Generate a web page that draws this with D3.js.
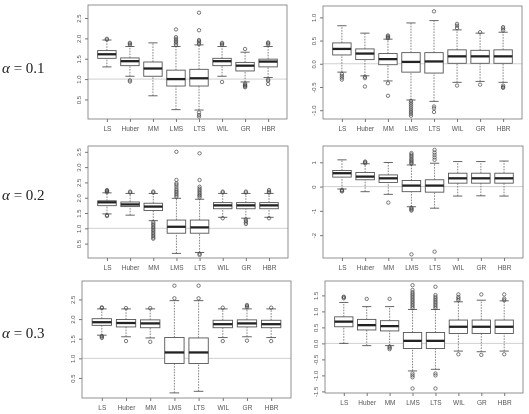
<!DOCTYPE html>
<html>
<head>
<meta charset="utf-8">
<script src="https://cdn.jsdelivr.net/npm/d3@7"></script>
<style>
  body { margin: 0; background: #fff; }
  svg { display: block; }
</style>
</head>
<body>
<div id="chart"></div>
<script>
const width = 529;
const height = 414;

const methods = ["LS", "Huber", "MM", "LMS", "LTS", "WIL", "GR", "HBR"];
const alphaLabels = ["0.1", "0.2", "0.3"];

// [lower whisker, Q1, median, Q3, upper whisker] per method
const statsA1Left = [
  [1.30, 1.51, 1.61, 1.70, 1.96],
  [1.07, 1.33, 1.44, 1.52, 1.80],
  [0.59, 1.07, 1.26, 1.42, 1.89],
  [0.25, 0.83, 1.00, 1.22, 1.80],
  [0.24, 0.83, 1.02, 1.24, 1.84],
  [1.07, 1.33, 1.44, 1.51, 1.80],
  [0.93, 1.20, 1.33, 1.41, 1.66],
  [1.04, 1.30, 1.43, 1.49, 1.80],
];
const outA1Left = [
  [1.97, 1.99],
  [1.84, 1.87, 1.89, 0.97, 0.94],
  [],
  [1.84, 1.88, 1.92, 1.95, 1.99, 2.03, 2.22],
  [1.86, 1.90, 1.93, 1.96, 2.20, 2.63, 0.18, 0.12, 0.08],
  [1.84, 1.87, 1.89, 0.93],
  [1.74, 0.89, 0.86, 0.84, 0.82, 0.80],
  [1.85, 1.88, 1.90, 0.99, 0.96, 0.88],
];
const ticksA1Left = [0.5, 1.0, 1.5, 2.0, 2.5];

const statsA1Right = [
  [-0.18, 0.19, 0.32, 0.45, 0.82],
  [-0.26, 0.09, 0.22, 0.32, 0.66],
  [-0.37, -0.02, 0.10, 0.22, 0.53],
  [-0.78, -0.18, 0.04, 0.24, 0.88],
  [-0.81, -0.20, 0.05, 0.24, 0.93],
  [-0.40, 0.01, 0.16, 0.30, 0.73],
  [-0.38, 0.01, 0.16, 0.29, 0.66],
  [-0.40, 0.01, 0.16, 0.30, 0.68],
];
const outA1Right = [
  [-0.22, -0.26, -0.30, -0.34],
  [-0.28, -0.31, -0.49],
  [0.55, 0.57, 0.59, 0.61, -0.42, -0.69],
  [-0.80, -0.84, -0.88, -0.92, -0.96, -1.00, -1.04, -1.08, -1.12],
  [1.13, -0.92, -0.96, -1.04],
  [0.77, 0.82, 0.86, -0.47],
  [0.68, -0.45],
  [0.72, 0.76, 0.79, -0.47, -0.50, -0.52],
];
const ticksA1Right = [-1.0, -0.5, 0.0, 0.5, 1.0];

const statsA2Left = [
  [1.47, 1.74, 1.85, 1.90, 2.16],
  [1.43, 1.71, 1.78, 1.86, 2.14],
  [1.25, 1.58, 1.71, 1.82, 2.14],
  [0.18, 0.84, 1.05, 1.27, 1.98],
  [0.21, 0.84, 1.03, 1.27, 1.95],
  [1.36, 1.64, 1.75, 1.84, 2.14],
  [1.33, 1.64, 1.75, 1.84, 2.14],
  [1.36, 1.64, 1.75, 1.84, 2.14],
];
const outA2Left = [
  [2.18, 2.21, 2.23, 2.25, 1.43, 1.40],
  [2.17, 2.20],
  [2.17, 2.20, 1.20, 1.15, 1.10, 1.05, 1.00, 0.95, 0.90, 0.85, 0.80, 0.75, 0.70, 0.66],
  [2.03, 2.08, 2.13, 2.18, 2.23, 2.28, 2.35, 2.42, 2.47, 2.58, 3.50],
  [2.01, 2.06, 2.10, 2.15, 2.20, 2.25, 2.30, 2.36, 2.58, 3.45, 0.17, 0.13],
  [2.17, 2.20, 1.33],
  [2.17, 2.20, 1.29, 1.24, 1.19, 1.14],
  [2.17, 2.20, 2.25, 1.33],
];
const ticksA2Left = [0.5, 1.0, 1.5, 2.0, 2.5, 3.0, 3.5];

const statsA2Right = [
  [-0.10, 0.39, 0.55, 0.66, 1.10],
  [-0.21, 0.28, 0.41, 0.58, 0.94],
  [-0.32, 0.17, 0.34, 0.48, 0.99],
  [-0.83, -0.21, 0.04, 0.25, 0.89],
  [-0.89, -0.23, 0.04, 0.28, 0.96],
  [-0.39, 0.14, 0.34, 0.55, 1.03],
  [-0.38, 0.14, 0.34, 0.55, 1.03],
  [-0.39, 0.14, 0.34, 0.55, 1.05],
];
const outA2Right = [
  [-0.14, -0.17, -0.20],
  [0.96, 1.00, 1.03],
  [-0.66],
  [0.94, 0.98, 1.03, 1.08, 1.13, 1.20, 1.26, 1.32, 1.38, -0.87, -0.91, -0.95, -0.99, -2.79],
  [1.10, 1.20, 1.30, 1.40, 1.51, -2.68],
  [],
  [],
  [],
];
const ticksA2Right = [-2, -1, 0, 1];

const statsA3Left = [
  [1.59, 1.84, 1.92, 2.01, 2.26],
  [1.55, 1.80, 1.90, 1.99, 2.26],
  [1.52, 1.78, 1.89, 1.98, 2.26],
  [0.12, 0.87, 1.15, 1.53, 2.47],
  [0.16, 0.87, 1.15, 1.52, 2.47],
  [1.53, 1.78, 1.87, 1.97, 2.26],
  [1.55, 1.80, 1.89, 1.98, 2.26],
  [1.53, 1.78, 1.87, 1.97, 2.26],
];
const outA3Left = [
  [2.28, 2.30, 1.57, 1.55, 1.52],
  [2.28, 1.44],
  [2.28, 1.42],
  [2.53, 2.85],
  [2.53, 2.85],
  [2.29, 1.44],
  [2.30, 2.33, 2.36, 1.45],
  [2.29, 1.44],
];
const ticksA3Left = [0.5, 1.0, 1.5, 2.0, 2.5];

const statsA3Right = [
  [0.00, 0.52, 0.68, 0.83, 1.28],
  [-0.07, 0.42, 0.57, 0.75, 1.15],
  [-0.07, 0.39, 0.54, 0.71, 1.15],
  [-0.86, -0.16, 0.08, 0.34, 1.06],
  [-0.81, -0.16, 0.08, 0.34, 1.06],
  [-0.24, 0.31, 0.52, 0.73, 1.30],
  [-0.26, 0.31, 0.52, 0.73, 1.35],
  [-0.24, 0.31, 0.52, 0.73, 1.33],
];
const outA3Right = [
  [1.41, 1.44, 1.46],
  [1.39],
  [1.39, -0.10, -0.14, -0.18],
  [1.10, 1.15, 1.20, 1.25, 1.30, 1.35, 1.40, 1.45, 1.50, 1.55, 1.60, 1.67, 1.82, -0.94, -1.00, -1.06, -1.41],
  [1.10, 1.15, 1.20, 1.25, 1.30, 1.35, 1.40, 1.45, 1.51, 1.77, -0.94, -1.00, -1.41],
  [1.35, 1.40, 1.45, 1.53, -0.34],
  [1.53, -0.36],
  [1.35, 1.40, 1.53, -0.34],
];
const ticksA3Right = [-1.5, -1.0, -0.5, 0.0, 0.5, 1.0, 1.5];

// panel frames in pixels and their y domains
const panels = [
  { stats: statsA1Left, outliers: outA1Left, ticks: ticksA1Left, ref: 1,
    x0: 88, x1: 287, y0: 5, y1: 119, domain: [0.02, 2.82], fmt: ".1f" },
  { stats: statsA1Right, outliers: outA1Right, ticks: ticksA1Right, ref: 0,
    x0: 323, x1: 522, y0: 6, y1: 119, domain: [-1.19, 1.245], fmt: ".1f" },
  { stats: statsA2Left, outliers: outA2Left, ticks: ticksA2Left, ref: 1,
    x0: 88, x1: 288, y0: 146, y1: 258, domain: [0.03, 3.69], fmt: ".1f" },
  { stats: statsA2Right, outliers: outA2Right, ticks: ticksA2Right, ref: 0,
    x0: 323, x1: 523, y0: 146, y1: 258, domain: [-2.94, 1.67], fmt: "d" },
  { stats: statsA3Left, outliers: outA3Left, ticks: ticksA3Left, ref: 1,
    x0: 82, x1: 291, y0: 281, y1: 398, domain: [-0.01, 2.97], fmt: ".1f" },
  { stats: statsA3Right, outliers: outA3Right, ticks: ticksA3Right, ref: 0,
    x0: 325, x1: 523, y0: 281, y1: 393, domain: [-1.55, 1.95], fmt: ".1f" },
];
const alphaY = [68, 195, 333];

const svg = d3
  .select("#chart")
  .append("svg")
  .attr("width", width)
  .attr("height", height);

svg
  .append("defs")
  .append("filter")
  .attr("id", "soft")
  .append("feGaussianBlur")
  .attr("stdDeviation", 0.35);

const root = svg.append("g").attr("filter", "url(#soft)");

const drawPanel = (p) => {
  const g = root.append("g");
  const x = d3
    .scaleLinear()
    .domain([0.5 - 0.32, methods.length + 0.5 + 0.32])
    .range([p.x0, p.x1]);
  const y = d3.scaleLinear().domain(p.domain).range([p.y1, p.y0]);
  const half = x(1.4) - x(1);
  const staple = half / 2;

  // reference line
  g.append("line")
    .attr("x1", p.x0)
    .attr("x2", p.x1)
    .attr("y1", y(p.ref))
    .attr("y2", y(p.ref))
    .attr("stroke", "#c4c4c4")
    .attr("stroke-width", 0.8);

  // y axis (R style: ticks only, the frame gives the line)
  const yAxis = d3
    .axisLeft(y)
    .tickValues(p.ticks)
    .tickSize(3)
    .tickSizeOuter(0)
    .tickPadding(2)
    .tickFormat(d3.format(p.fmt));
  const ya = g
    .append("g")
    .attr("transform", `translate(${p.x0},0)`)
    .call(yAxis);
  ya.select(".domain").remove();
  ya.selectAll(".tick line").attr("stroke", "#777");
  ya.selectAll(".tick text")
    .attr("x", null)
    .attr("dy", null)
    .attr("transform", "translate(-7,0) rotate(-90)")
    .attr("text-anchor", "middle")
    .attr("fill", "#555")
    .style("font", "6px 'Liberation Sans', Arial, sans-serif")
    .text((d) => d3.format(p.fmt)(d).replace("−", "-"));

  // x axis
  const xAxis = d3
    .axisBottom(x)
    .tickValues(d3.range(1, methods.length + 1))
    .tickSize(3)
    .tickSizeOuter(0)
    .tickPadding(4)
    .tickFormat((d) => methods[d - 1]);
  const xa = g
    .append("g")
    .attr("transform", `translate(0,${p.y1})`)
    .call(xAxis);
  xa.select(".domain").remove();
  xa.selectAll(".tick line").attr("stroke", "#777");
  xa.selectAll(".tick text")
    .attr("fill", "#555")
    .style("font", "6.5px 'Liberation Sans', Arial, sans-serif");

  // boxes
  p.stats.forEach((s, i) => {
    const cx = x(i + 1);
    const [lo, q1, med, q3, hi] = s;
    const bg = g.append("g");
    bg.selectAll(".whisker")
      .data([[q3, hi], [lo, q1]])
      .join("line")
      .attr("class", "whisker")
      .attr("x1", cx)
      .attr("x2", cx)
      .attr("y1", (d) => y(d[0]))
      .attr("y2", (d) => y(d[1]))
      .attr("stroke", "#666")
      .attr("stroke-width", 0.8)
      .attr("stroke-dasharray", "1.6,1.2");
    bg.selectAll(".staple")
      .data([lo, hi])
      .join("line")
      .attr("class", "staple")
      .attr("x1", cx - staple)
      .attr("x2", cx + staple)
      .attr("y1", (d) => y(d))
      .attr("y2", (d) => y(d))
      .attr("stroke", "#555")
      .attr("stroke-width", 0.9);
    bg.append("rect")
      .attr("x", cx - half)
      .attr("y", y(q3))
      .attr("width", half * 2)
      .attr("height", y(q1) - y(q3))
      .attr("fill", "#fff")
      .attr("stroke", "#555")
      .attr("stroke-width", 0.9);
    bg.append("line")
      .attr("x1", cx - half)
      .attr("x2", cx + half)
      .attr("y1", y(med))
      .attr("y2", y(med))
      .attr("stroke", "#222")
      .attr("stroke-width", 2.3);
    bg.selectAll("circle")
      .data(p.outliers[i])
      .join("circle")
      .attr("cx", cx)
      .attr("cy", (d) => y(d))
      .attr("r", 1.7)
      .attr("fill", "none")
      .attr("stroke", "#444")
      .attr("stroke-width", 0.7);
  });

  // frame
  g.append("rect")
    .attr("x", p.x0)
    .attr("y", p.y0)
    .attr("width", p.x1 - p.x0)
    .attr("height", p.y1 - p.y0)
    .attr("fill", "none")
    .attr("stroke", "#777")
    .attr("stroke-width", 0.8);
};

panels.forEach(drawPanel);

// alpha labels
alphaLabels.forEach((a, i) => {
  const t = root
    .append("text")
    .attr("x", 2)
    .attr("y", alphaY[i])
    .attr("dy", "0.35em")
    .attr("fill", "#222")
    .style("font", "15px 'Liberation Serif', 'Times New Roman', serif");
  t.append("tspan").style("font-style", "italic").text("α");
  t.append("tspan").text(` = ${a}`);
});
</script>
</body>
</html>
